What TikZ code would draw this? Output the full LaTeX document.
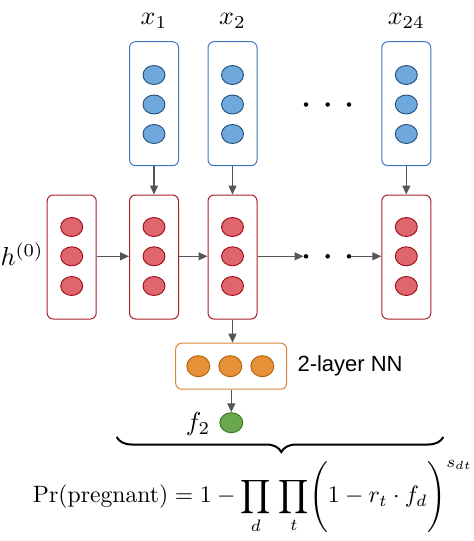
\documentclass[tikz,border=0pt]{standalone}
\usepackage{fontspec}
\usepackage{amsmath}
\usepackage{graphicx}
\usetikzlibrary{arrows.meta,decorations.pathreplacing,shapes.geometric}
\newfontfamily\labelsans{Liberation Sans}
\newcommand{\mybiglab}[1]{\scalebox{2.6}{$#1$}}
\definecolor{bluefill}{RGB}{111,168,220}
\definecolor{bluedraw}{RGB}{31,78,121}
\definecolor{blueline}{RGB}{61,120,190}
\definecolor{redfill}{RGB}{224,102,110}
\definecolor{reddraw}{RGB}{153,10,20}
\definecolor{redline}{RGB}{170,30,40}
\definecolor{orangefill}{RGB}{230,145,56}
\definecolor{orangedraw}{RGB}{180,95,6}
\definecolor{orangeline}{RGB}{215,135,60}
\definecolor{greenfill}{RGB}{106,168,79}
\definecolor{greendraw}{RGB}{56,118,29}
\definecolor{arrowgray}{RGB}{85,85,85}
\tikzset{
  box/.style={draw, rounded corners=6pt, line width=1pt, minimum width=49pt, minimum height=124pt, inner sep=0pt},
  bluebox/.style={box, draw=blueline},
  redbox/.style={box, draw=redline},
  orangebox/.style={draw=orangeline, rounded corners=6pt, line width=1pt, minimum width=111pt, minimum height=46pt, inner sep=0pt},
  unit/.style={ellipse, minimum width=22pt, minimum height=19pt, inner sep=0pt, line width=0.9pt},
  blueunit/.style={unit, fill=bluefill, draw=bluedraw},
  redunit/.style={unit, fill=redfill, draw=reddraw},
  orangeunit/.style={unit, minimum width=23pt, minimum height=21pt, fill=orangefill, draw=orangedraw},
  greenunit/.style={unit, minimum width=23pt, minimum height=20pt, fill=greenfill, draw=greendraw},
  conn/.style={draw=arrowgray, line width=1.3pt, -{Triangle[length=9pt,width=8pt]}},
  dotmark/.style={circle, fill=black, minimum size=4.5pt, inner sep=0pt},
  biglabel/.style={inner sep=0pt},
}
\begin{document}
\begin{tikzpicture}[x=1pt,y=-1pt]
\useasboundingbox (0,0) rectangle (474,541);
% top (input) boxes
\node[bluebox] (b1) at (154,103.7) {};
\node[bluebox] (b2) at (232.5,103.7) {};
\node[bluebox] (b3) at (406.3,103.7) {};
\foreach \b/\x in {1/154,2/232.5,3/406.3}{
  \node[blueunit] (bu\b a) at (\x,75) {};
  \node[blueunit] (bu\b b) at (\x,104.5) {};
  \node[blueunit] (bu\b c) at (\x,134) {};
}
\node[biglabel] (lx1) at (154,21) {\mybiglab{x_1}};
\node[biglabel] (lx2) at (232.5,21) {\mybiglab{x_2}};
\node[biglabel] (lx3) at (406.3,21) {\mybiglab{x_{24}}};
\node[dotmark] (td1) at (306,104.5) {};
\node[dotmark] (td2) at (327.7,104.5) {};
\node[dotmark] (td3) at (349,104.5) {};
% hidden boxes
\node[redbox] (h0) at (71.7,257) {};
\node[redbox] (r1) at (154,257) {};
\node[redbox] (r2) at (232.5,257) {};
\node[redbox] (r3) at (406.3,257) {};
\foreach \b/\x in {0/71.7,1/154,2/232.5,3/406.3}{
  \node[redunit] (ru\b a) at (\x,227) {};
  \node[redunit] (ru\b b) at (\x,256.3) {};
  \node[redunit] (ru\b c) at (\x,286) {};
}
\node[biglabel] (lh0) at (22,254) {\mybiglab{h^{(0)}}};
\node[dotmark] (hd1) at (306,256.3) {};
\node[dotmark] (hd2) at (327.7,256.3) {};
\node[dotmark] (hd3) at (349,256.3) {};
% connectors
\draw[conn] (b1) -- (r1);
\draw[conn] (b2) -- (r2);
\draw[conn] (b3) -- (r3);
\draw[conn] (h0.east |- ru0b) -- (r1.west |- ru1b);
\draw[conn] (r1.east |- ru1b) -- (r2.west |- ru2b);
\draw[conn] (r2.east |- ru2b) -- (hd1.west);
\draw[conn] (hd3.east) -- (r3.west |- ru3b);
% output network
\node[orangebox] (nn) at (231.2,366.2) {};
\node[orangeunit] (o1) at (198.3,366.2) {};
\node[orangeunit] (o2) at (230.3,366.2) {};
\node[orangeunit] (o3) at (262.3,366.2) {};
\node[anchor=west, font=\labelsans\fontsize{22}{26}\selectfont] (nnl) at (294,366.2) {2-layer NN};
\draw[conn] (r2.south) -- (r2.south |- nn.north);
\node[greenunit] (g) at (231.3,422.7) {};
\draw[conn] (nn.south -| g) -- (g.north);
\node[biglabel] (lf2) at (198,424) {\mybiglab{f_2}};
% brace and formula
\coordinate (brL) at (116.7,437);
\coordinate (brR) at (443.3,437);
\draw[line width=2pt, decorate, decoration={brace, amplitude=15pt, aspect=0.496}] (brR) -- (brL);
\node (formula) at (253,497) {\resizebox{440pt}{!}{$\displaystyle \Pr(\text{pregnant}) = 1 - \prod_{d}\,\prod_{t}\Biggl(1 - r_t \cdot f_d\Biggr)^{s_{dt}}$}};
\end{tikzpicture}
\end{document}
